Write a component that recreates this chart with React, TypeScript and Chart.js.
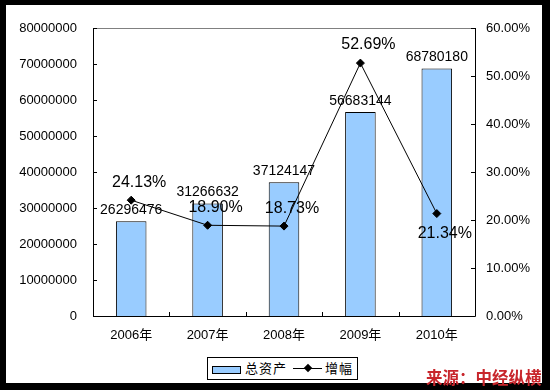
import React, { useEffect, useRef } from "react";
import { Chart, registerables } from "chart.js";

Chart.register(...registerables);

const categories = ["2006年", "2007年", "2008年", "2009年", "2010年"];
const totalAssets = [26296476, 31266632, 37124147, 56683144, 68780180];
const growthPct = [24.13, 18.9, 18.73, 52.69, 21.34];
const growthLabels = ["24.13%", "18.90%", "18.73%", "52.69%", "21.34%"];
const growthLabelBelow = [false, false, false, false, true];
const leftMax = 80000000;
const leftStep = 10000000;
const rightMax = 60;
const rightStep = 10;

const FONT = '"Liberation Sans", Arial, "Noto Sans CJK SC", sans-serif';

export default function App() {
  const ref = useRef<HTMLCanvasElement | null>(null);

  useEffect(() => {
    document.body.style.margin = "0";
    const canvas = ref.current;
    if (!canvas) return;

    const overlay = {
      id: "overlay",
      afterDatasetsDraw(chart: any) {
        const { ctx, chartArea } = chart;
        const { left, right, top, bottom } = chartArea;
        ctx.save();
        // top border (gray)
        ctx.strokeStyle = "#808080";
        ctx.lineWidth = 1;
        ctx.beginPath();
        ctx.moveTo(left, top + 0.5);
        ctx.lineTo(right, top + 0.5);
        ctx.stroke();
        // axes (black)
        ctx.strokeStyle = "#000";
        ctx.beginPath();
        ctx.moveTo(left + 0.5, top);
        ctx.lineTo(left + 0.5, bottom + 0.5);
        ctx.lineTo(right + 0.5, bottom + 0.5);
        ctx.lineTo(right + 0.5, top);
        ctx.stroke();
        // inner tick marks
        const y = chart.scales.y;
        const y1 = chart.scales.y1;
        const x = chart.scales.x;
        ctx.beginPath();
        y.ticks.forEach((t: any) => {
          const py = Math.round(y.getPixelForValue(t.value)) + 0.5;
          ctx.moveTo(left, py);
          ctx.lineTo(left + 4, py);
        });
        y1.ticks.forEach((t: any) => {
          const py = Math.round(y1.getPixelForValue(t.value)) + 0.5;
          ctx.moveTo(right - 4, py);
          ctx.lineTo(right, py);
        });
        for (let i = 0; i < categories.length - 1; i++) {
          const px = Math.round((x.getPixelForTick(i) + x.getPixelForTick(i + 1)) / 2) + 0.5;
          ctx.moveTo(px, bottom);
          ctx.lineTo(px, bottom - 4);
        }
        ctx.stroke();

        // bar value labels
        ctx.fillStyle = "#000";
        ctx.textAlign = "center";
        ctx.textBaseline = "middle";
        ctx.font = `14px ${FONT}`;
        const barMeta = chart.getDatasetMeta(0);
        barMeta.data.forEach((el: any, i: number) => {
          ctx.fillText(String(totalAssets[i]), el.x, el.y - 11);
        });
        // growth labels
        ctx.font = `16px ${FONT}`;
        const lineMeta = chart.getDatasetMeta(1);
        lineMeta.data.forEach((el: any, i: number) => {
          const dy = growthLabelBelow[i] ? 20 : -18;
          ctx.fillText(growthLabels[i], el.x + 8, el.y + dy);
        });
        ctx.restore();
      },
    };

    const chart = new Chart(canvas, {
      type: "bar",
      data: {
        labels: categories,
        datasets: [
          {
            type: "bar",
            label: "总资产",
            data: totalAssets,
            yAxisID: "y",
            backgroundColor: "#99CCFF",
            borderColor: "#000",
            borderWidth: 1,
            barPercentage: 0.4,
            categoryPercentage: 1,
            order: 1,
          } as any,
          {
            type: "line",
            label: "增幅",
            data: growthPct,
            yAxisID: "y1",
            borderColor: "#000",
            borderWidth: 1,
            pointStyle: "rectRot",
            pointRadius: 4,
            pointBackgroundColor: "#000",
            pointBorderColor: "#000",
            tension: 0,
            order: 0,
          } as any,
        ],
      },
      options: {
        responsive: false,
        animation: false,
        layout: { padding: { top: 28, left: 0, right: 0, bottom: 0 } },
        plugins: {
          legend: { display: false },
          tooltip: { enabled: false },
        },
        scales: {
          x: {
            grid: { display: false, drawTicks: false },
            border: { display: false },
            ticks: { color: "#000", font: { family: FONT, size: 13 }, padding: 12 },
            afterFit: (s: any) => {
              s.height = 74;
            },
          },
          y: {
            position: "left",
            min: 0,
            max: leftMax,
            grid: { display: false, drawTicks: false },
            border: { display: false },
            ticks: {
              stepSize: leftStep,
              color: "#000",
              font: { family: FONT, size: 13 },
              padding: 16,
              callback: (v: any) => String(v),
            },
            afterFit: (s: any) => {
              s.width = 93;
            },
          },
          y1: {
            position: "right",
            min: 0,
            max: rightMax,
            grid: { display: false, drawTicks: false },
            border: { display: false },
            ticks: {
              stepSize: rightStep,
              color: "#000",
              font: { family: FONT, size: 13 },
              padding: 11,
              callback: (v: any) => Number(v).toFixed(2) + "%",
            },
            afterFit: (s: any) => {
              s.width = 75;
            },
          },
        },
      } as any,
      plugins: [overlay],
    });

    return () => chart.destroy();
  }, []);

  const abs = (l: number, t: number, extra: any = {}) => ({
    position: "absolute" as const,
    left: l,
    top: t,
    boxSizing: "border-box" as const,
    ...extra,
  });

  return (
    <div style={{ position: "fixed", left: 0, top: 0, width: 550, height: 390, background: "#000", overflow: "hidden" }}>
      <div style={abs(6, 5, { width: 536, height: 378, background: "#fff" })} />
      <canvas ref={ref} width={550} height={390} style={abs(0, 0, { width: 550, height: 390 })} />
      {/* legend */}
      <div style={abs(207, 357, { width: 151, height: 23, border: "1px solid #000", background: "#fff" })} />
      <div style={abs(212, 366, { width: 29, height: 8, border: "1px solid #000", background: "#99CCFF" })} />
      <div style={abs(245, 361, { font: `13px ${FONT}`, lineHeight: "15px", color: "#000", whiteSpace: "nowrap", letterSpacing: "1px" })}>总资产</div>
      <div style={abs(293, 368, { width: 29, height: 1, background: "#000" })} />
      <div style={abs(304.5, 365, { width: 6, height: 6, background: "#000", transform: "rotate(45deg)" })} />
      <div style={abs(325, 361, { font: `13px ${FONT}`, lineHeight: "15px", color: "#000", whiteSpace: "nowrap", letterSpacing: "1px" })}>增幅</div>
      {/* source */}
      <div style={abs(426, 369, { font: `bold 16.5px "Noto Sans CJK SC", sans-serif`, lineHeight: "17px", color: "#C8262C", whiteSpace: "nowrap" })}>来源：中经纵横</div>
    </div>
  );
}
